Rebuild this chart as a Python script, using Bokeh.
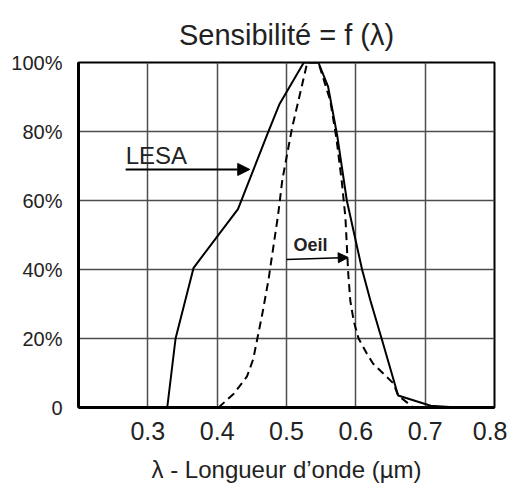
from bokeh.plotting import figure
from bokeh.models import Range1d, FixedTicker, Label, Arrow, NormalHead
from bokeh.embed import file_html
from bokeh.resources import INLINE

# Data (wavelength in µm, sensitivity in %)
lesa_x = [0.328, 0.340, 0.366, 0.430, 0.472, 0.490, 0.525, 0.546, 0.560, 0.573,
          0.587, 0.609, 0.621, 0.638, 0.661, 0.708, 0.746]
lesa_y = [0, 20, 40.5, 57.5, 79, 88, 100, 100, 93, 79,
          60, 40, 31, 19.4, 3.5, 0.5, 0]

oeil_x = [0.402, 0.424, 0.443, 0.452, 0.458, 0.465, 0.474, 0.488, 0.494, 0.508,
          0.530, 0.546, 0.563, 0.572, 0.580, 0.585, 0.589, 0.592, 0.597, 0.604,
          0.616, 0.625, 0.654, 0.661, 0.683]
oeil_y = [0, 4, 9, 14, 20, 27, 37, 56, 66, 81,
          100, 100, 89, 78, 65, 55, 39, 31, 25, 20,
          15.6, 12.7, 7, 3.5, 0]

x_ticks = [0.3, 0.4, 0.5, 0.6, 0.7, 0.8]
y_ticks = [0, 20, 40, 60, 80, 100]
y_tick_labels = ["0", "20%", "40%", "60%", "80%", "100%"]

title_text = "Sensibilité = f (λ)"
x_label = "λ - Longueur d\u2019onde (µm)"

p = figure(width=507, height=485, x_range=Range1d(0.2, 0.8), y_range=Range1d(0, 100),
           output_backend="svg", toolbar_location=None,
           min_border_left=78, min_border_right=13, min_border_top=62, min_border_bottom=78)

p.title.text = title_text
p.title.align = "center"
p.title.vertical_align = "top"
p.title.text_font = "Liberation Sans"
p.title.text_font_size = "29px"
p.title.text_font_style = "normal"
p.title.text_color = "#222222"
p.title.standoff = 20

p.outline_line_color = "black"
p.outline_line_width = 2
p.outline_line_alpha = 1

p.xaxis.ticker = FixedTicker(ticks=x_ticks)
p.yaxis.ticker = FixedTicker(ticks=y_ticks)
p.yaxis.major_label_overrides = {t: l for t, l in zip(y_ticks, y_tick_labels)}

for ax in (p.xaxis[0], p.yaxis[0]):
    ax.axis_line_color = "black"
    ax.axis_line_width = 3
    ax.major_tick_line_color = None
    ax.minor_tick_line_color = None
    ax.major_label_text_font = "Liberation Sans"
    ax.major_label_text_color = "#222222"

p.xaxis.major_label_text_font_size = "25px"
p.xaxis.major_label_standoff = 8
p.yaxis.major_label_text_font_size = "20px"
p.yaxis.major_label_standoff = 10

p.xaxis.axis_label = x_label
p.xaxis.axis_label_text_font = "Liberation Sans"
p.xaxis.axis_label_text_font_size = "24px"
p.xaxis.axis_label_text_font_style = "normal"
p.xaxis.axis_label_text_color = "#222222"
p.xaxis.axis_label_standoff = 13

p.grid.grid_line_color = "#4d4d4d"
p.grid.grid_line_width = 1.5
p.grid.grid_line_alpha = 1

p.line(lesa_x, lesa_y, line_color="black", line_width=2)
p.line(oeil_x, oeil_y, line_color="black", line_width=2, line_dash="8 5")

p.add_layout(Label(x=0.268, y=73, text="LESA", text_font="Liberation Sans",
                   text_font_size="24px", text_color="#222222",
                   text_baseline="middle", text_align="left"))
p.add_layout(Arrow(end=NormalHead(size=12, fill_color="black", line_color="black"),
                   x_start=0.268, y_start=69, x_end=0.447, y_end=69,
                   line_color="black", line_width=2))

p.add_layout(Label(x=0.510, y=47.2, text="Oeil", text_font="Liberation Sans",
                   text_font_size="18px", text_font_style="bold", text_color="#222222",
                   text_baseline="middle", text_align="left"))
p.add_layout(Arrow(end=NormalHead(size=10, fill_color="black", line_color="black"),
                   x_start=0.5, y_start=42.9, x_end=0.589, y_end=43.5,
                   line_color="black", line_width=1.5))

open("out.html", "w").write(file_html(p, INLINE))
